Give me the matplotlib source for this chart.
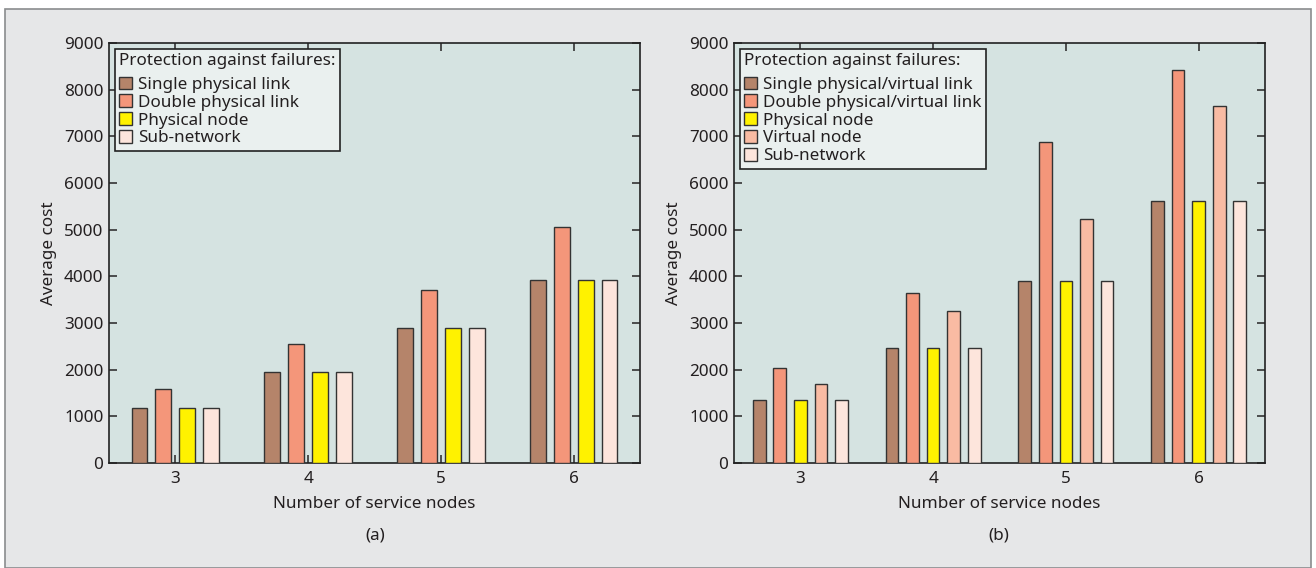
import matplotlib
matplotlib.use("Agg")
import matplotlib.pyplot as plt
from matplotlib.patches import Rectangle
import numpy as np

plt.rcParams['font.family'] = ['Noto Sans', 'DejaVu Sans']

categories = [3, 4, 5, 6]

# Panel (a)
labels_a = ["Single physical link", "Double physical link", "Physical node", "Sub-network"]
single_a = [1170, 1950, 2890, 3930]
double_a = [1590, 2560, 3700, 5060]
node_a = [1170, 1950, 2890, 3930]
subnet_a = [1170, 1950, 2890, 3930]
series_a = [single_a, double_a, node_a, subnet_a]
colors_a = ["#B5846A", "#F4967A", "#FFF200", "#FDE5DC"]

# Panel (b)
labels_b = ["Single physical/virtual link", "Double physical/virtual link",
            "Physical node", "Virtual node", "Sub-network"]
single_b = [1340, 2470, 3900, 5620]
double_b = [2040, 3650, 6870, 8430]
pnode_b = [1340, 2470, 3900, 5620]
vnode_b = [1690, 3250, 5230, 7660]
subnet_b = [1340, 2470, 3900, 5620]
series_b = [single_b, double_b, pnode_b, vnode_b, subnet_b]
colors_b = ["#B5846A", "#F4967A", "#FFF200", "#F9BBA3", "#FDE5DC"]

yticks = [0, 1000, 2000, 3000, 4000, 5000, 6000, 7000, 8000, 9000]

W, H = 1316, 568
FS = 12.3
fig = plt.figure(figsize=(W / 100, H / 100), dpi=100)
fig.patch.set_facecolor("white")
bg = Rectangle((5 / W, 0), (1311 - 5) / W, (H - 9) / H,
               transform=fig.transFigure, facecolor="#E6E7E8",
               edgecolor="#8A8C8E", linewidth=1.2, zorder=-10)
fig.add_artist(bg)

axbg = "#D5E3E1"
edge = "#333333"
txt = "#231F20"


def draw(ax, series, labels, colors, spacing, width):
    x = np.array(categories, dtype=float)
    n = len(series)
    for i, (vals, lab, col) in enumerate(zip(series, labels, colors)):
        off = (i - (n - 1) / 2) * spacing
        ax.bar(x + off, vals, width=width, color=col, edgecolor=edge,
               linewidth=1.0, label=lab, zorder=3)
    ax.set_xlim(2.5, 6.5)
    ax.set_ylim(0, 9000)
    ax.set_facecolor(axbg)
    ax.set_xticks(categories)
    ax.set_yticks(yticks)
    ax.tick_params(direction="in", top=True, right=True, length=6, width=1.2,
                   color="#333333", labelsize=FS, labelcolor=txt, pad=4)
    ax.tick_params(axis="x", pad=5.5)
    for s in ax.spines.values():
        s.set_color("#222222")
        s.set_linewidth(1.2)
    ax.set_xlabel("Number of service nodes", fontsize=FS, color=txt, labelpad=7)
    ax.set_ylabel("Average cost", fontsize=FS, color=txt, labelpad=5)
    leg = ax.legend(loc="upper left", title="Protection against failures:",
                    fontsize=FS, title_fontsize=FS, frameon=True, fancybox=False,
                    borderaxespad=0.35, handlelength=0.75, handleheight=0.75,
                    handletextpad=0.35, labelspacing=0.1, borderpad=0.25,
                    alignment="left")
    leg._legend_box.sep = 0.1 * FS + 4
    leg.get_frame().set_facecolor("#EAF0EF")
    leg.get_frame().set_edgecolor("#222222")
    leg.get_frame().set_linewidth(1.2)
    leg.get_frame().set_alpha(1)
    leg.get_title().set_color(txt)
    for t in leg.get_texts():
        t.set_color(txt)


y0 = (H - 463) / H
h = (463 - 43) / H
ax1 = fig.add_axes([109 / W, y0, 531 / W, h])
ax2 = fig.add_axes([734 / W, y0, 531 / W, h])
draw(ax1, series_a, labels_a, colors_a, 0.18, 0.12)
draw(ax2, series_b, labels_b, colors_b, 0.155, 0.095)

fig.text(375 / W, 1 - 535 / H, "(a)", ha="center", va="center", fontsize=FS, color=txt)
fig.text(999 / W, 1 - 535 / H, "(b)", ha="center", va="center", fontsize=FS, color=txt)

fig.savefig("out.png", dpi=100)
